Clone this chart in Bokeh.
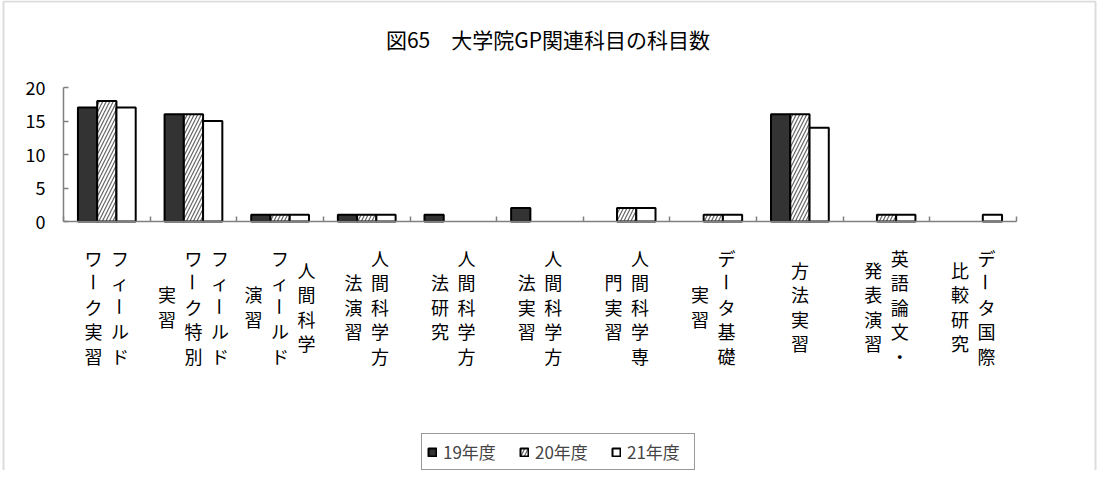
import math
from bokeh.plotting import figure
from bokeh.models import (ColumnDataSource, Range1d, FixedTicker, Label, LabelSet,
                          Legend, LegendItem, BoxAnnotation)
from bokeh.core.properties import value
from bokeh.embed import file_html
from bokeh.resources import INLINE

# ---------------- data ----------------
title_text = "図65　大学院GP関連科目の科目数"
category_lines = [
    ["フィールド", "ワーク実習"],
    ["フィールド", "ワーク特別", "実習"],
    ["人間科学", "フィールド", "演習"],
    ["人間科学方", "法演習"],
    ["人間科学方", "法研究"],
    ["人間科学方", "法実習"],
    ["人間科学専", "門実習"],
    ["データ基礎", "実習"],
    ["方法実習"],
    ["英語論文・", "発表演習"],
    ["データ国際", "比較研究"],
]
series_names = ["19年度", "20年度", "21年度"]
values_19 = [17, 16, 1, 1, 1, 2, 0, 0, 16, 0, 0]
values_20 = [18, 16, 1, 1, 0, 0, 2, 1, 16, 1, 0]
values_21 = [17, 15, 1, 1, 0, 0, 2, 1, 14, 1, 1]
y_ticks = [0, 5, 10, 15, 20]

# ---------------- style / layout ----------------
FONT = "Noto Sans CJK JP"
W, H = 1097, 470
# pixel box of the value area inside the canvas
AX_L, AX_R, AX_T, AX_B = 63, 1016, 87, 221
BAR_W = 1 / 4.5
COL_PITCH = 26.5
CHAR_PITCH = 24.5
LABEL_DROP = 85
n_cat = len(category_lines)
y_max = max(y_ticks)

px_x = (AX_R - AX_L) / n_cat
px_y = (AX_B - AX_T) / y_max
x0 = -AX_L / px_x
y1 = y_max + AX_T / px_y

p = figure(width=W, height=H,
           x_range=Range1d(x0, x0 + W / px_x), y_range=Range1d(y1 - H / px_y, y1),
           output_backend="svg", toolbar_location=None,
           min_border_left=0, min_border_right=0, min_border_top=0, min_border_bottom=0)
p.outline_line_color = None
p.grid.visible = False
p.background_fill_color = "white"
p.border_fill_color = "white"

# axes (drawn at fixed data locations inside the frame)
p.xaxis.fixed_location = 0
p.xaxis.bounds = (0, n_cat)
p.xaxis.ticker = FixedTicker(ticks=list(range(n_cat + 1)))
p.xaxis.major_label_overrides = {i: "" for i in range(n_cat + 1)}
p.xaxis.major_tick_in = 5
p.xaxis.major_tick_out = 0
p.yaxis.fixed_location = 0
p.yaxis.bounds = (0, y_max)
p.yaxis.ticker = FixedTicker(ticks=y_ticks)
p.yaxis.major_tick_in = 5
p.yaxis.major_tick_out = 0
p.yaxis.major_label_standoff = 18
p.yaxis.major_label_text_font = FONT
p.yaxis.major_label_text_font_size = "18px"
p.yaxis.major_label_text_color = "black"
for ax in (p.xaxis, p.yaxis):
    ax.axis_line_color = "#808080"
    ax.axis_line_width = 1.5
    ax.major_tick_line_color = "#808080"
    ax.major_tick_line_width = 1.5
    ax.minor_tick_line_color = None

# bars
fills = ["#333333", "#ffffff", "#ffffff"]
hatches = [" ", "/", " "]
renderers = []
for s, vals in enumerate([values_19, values_20, values_21]):
    xs = [i + 0.5 + (s - 1) * BAR_W for i, v in enumerate(vals) if v > 0]
    tops = [v for v in vals if v > 0]
    src = ColumnDataSource(dict(x=xs, top=tops))
    r = p.vbar(x="x", top="top", bottom=0, width=BAR_W, source=src,
               fill_color=fills[s], line_color="black", line_width=2,
               hatch_pattern=hatches[s], hatch_color="#666666",
               hatch_scale=7, hatch_weight=1.2)
    renderers.append(r)

# vertical category labels (columns read right to left)
lx, ly, lxo, lyo, lang, ltxt = [], [], [], [], [], []
for i, cols in enumerate(category_lines):
    m = len(cols)
    for j, col in enumerate(cols):
        n = len(col)
        for k, ch in enumerate(col):
            lx.append(i + 0.5)
            ly.append(0)
            lxo.append(((m - 1) / 2 - j) * COL_PITCH)
            lyo.append(-(LABEL_DROP + (k - (n - 1) / 2) * CHAR_PITCH))
            lang.append(-math.pi / 2 if ch == "ー" else 0.0)
            ltxt.append(ch)
lab_src = ColumnDataSource(dict(x=lx, y=ly, xo=lxo, yo=lyo, angle=lang, text=ltxt))
labels = LabelSet(x="x", y="y", x_offset="xo", y_offset="yo", angle="angle", text="text",
                  source=lab_src, text_align="center", text_baseline="middle",
                  text_font=value(FONT), text_font_size=value("18px"), text_color="black")
p.add_layout(labels)

# title
p.add_layout(Label(x=n_cat / 2, y=y_max, x_offset=8, y_offset=49, text=title_text,
                   text_align="center", text_baseline="middle",
                   text_font=FONT, text_font_size="21px", text_color="black"))

# legend
legend = Legend(items=[LegendItem(label=series_names[s], renderers=[renderers[s]]) for s in range(3)],
                orientation="horizontal", location=(421, 0), margin=0, padding=5,
                spacing=14, label_standoff=6, label_width=62, label_height=20,
                glyph_width=10, glyph_height=10,
                label_text_font=FONT, label_text_font_size="17px",
                border_line_color="#333333", border_line_width=1,
                background_fill_color="white", background_fill_alpha=1)
p.add_layout(legend, "center")

# chart-area border (bottom edge lies below the visible page)
p.add_layout(BoxAnnotation(left=3, right=W - 2, top=1, bottom=H + 20,
                           left_units="canvas", right_units="canvas",
                           top_units="canvas", bottom_units="canvas",
                           fill_alpha=0, line_color="#8c8c8c", line_width=2))

open("out.html", "w").write(file_html(p, INLINE))
